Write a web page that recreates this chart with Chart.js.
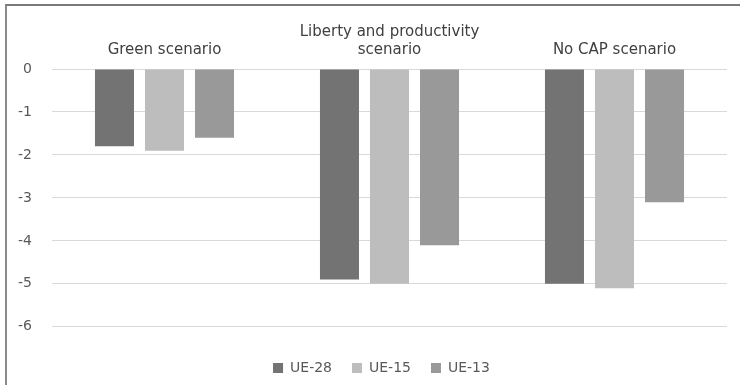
<!DOCTYPE html>
<html>
<head>
<meta charset="utf-8">
<script src="https://cdn.jsdelivr.net/npm/chart.js@4"></script>
<style>
  html, body { margin: 0; padding: 0; background: #fff; }
  #wrap { position: relative; width: 740px; height: 385px; }
  #frame {
    position: absolute; left: 5px; top: 4px; right: 0; bottom: 0;
    border-top: 2px solid #7a7a7a; border-left: 2px solid #8a8a8a;
    pointer-events: none;
  }
  canvas { position: absolute; left: 0; top: 0; }
</style>
</head>
<body>
<div id="wrap">
  <canvas id="chart" width="740" height="385"></canvas>
  <div id="frame"></div>
</div>
<script>
// scenarios (x axis, on top)
const categories = [['Green scenario'], ['Liberty and productivity', 'scenario'], ['No CAP scenario']];
// series
const seriesNames = ['UE-28', 'UE-15', 'UE-13'];
const ue28 = [-1.8, -4.9, -5.0];
const ue15 = [-1.9, -5.0, -5.1];
const ue13 = [-1.6, -4.1, -3.1];
const yTicks = [0, -1, -2, -3, -4, -5, -6];

const colors = ['#737373', '#bdbdbd', '#999999'];
const font = "'DejaVu Sans', sans-serif";

const ctx = document.getElementById('chart').getContext('2d');

// the legend in the original sits a bit right of the canvas centre
const shiftLegend = {
  id: 'shiftLegend',
  afterLayout: function(chart) {
    if (chart.legend) {
      chart.legend.left += 18;
      chart.legend.right += 18;
    }
  }
};

new Chart(ctx, {
  type: 'bar',
  data: {
    labels: categories,
    datasets: [ue28, ue15, ue13].map(function(vals, i) {
      return {
        label: seriesNames[i],
        data: vals,
        backgroundColor: colors[i],
        borderWidth: 0,
        categoryPercentage: 0.667,
        barPercentage: 0.78
      };
    })
  },
  options: {
    responsive: false,
    animation: false,
    layout: { padding: { left: 0, right: 13, top: 0, bottom: 0 } },
    plugins: {
      legend: {
        position: 'bottom',
        // empty title only used as spacer between plot and legend
        title: { display: true, text: '', padding: { top: 5, bottom: 8 }, font: { size: 1 } },
        labels: {
          boxWidth: 10,
          boxHeight: 10,
          padding: 20,
          color: '#595959',
          font: { family: font, size: 14 }
        }
      },
      tooltip: { enabled: false }
    },
    scales: {
      x: {
        position: 'top',
        grid: { display: false, drawTicks: false },
        border: { display: false },
        ticks: {
          color: '#404040',
          padding: 10,
          maxRotation: 0,
          font: { family: font, size: 15 }
        },
        afterFit: function(scale) { scale.height = 69; }
      },
      y: {
        min: -6,
        max: 0,
        afterBuildTicks: function(scale) {
          scale.ticks = yTicks.map(function(v) { return { value: v }; });
        },
        grid: { color: '#d9d9d9', drawTicks: false },
        border: { display: false },
        ticks: {
          color: '#595959',
          padding: 20,
          font: { family: font, size: 14 }
        },
        afterFit: function(scale) { scale.width = 52; }
      }
    }
  },
  plugins: [shiftLegend]
});
</script>
</body>
</html>
